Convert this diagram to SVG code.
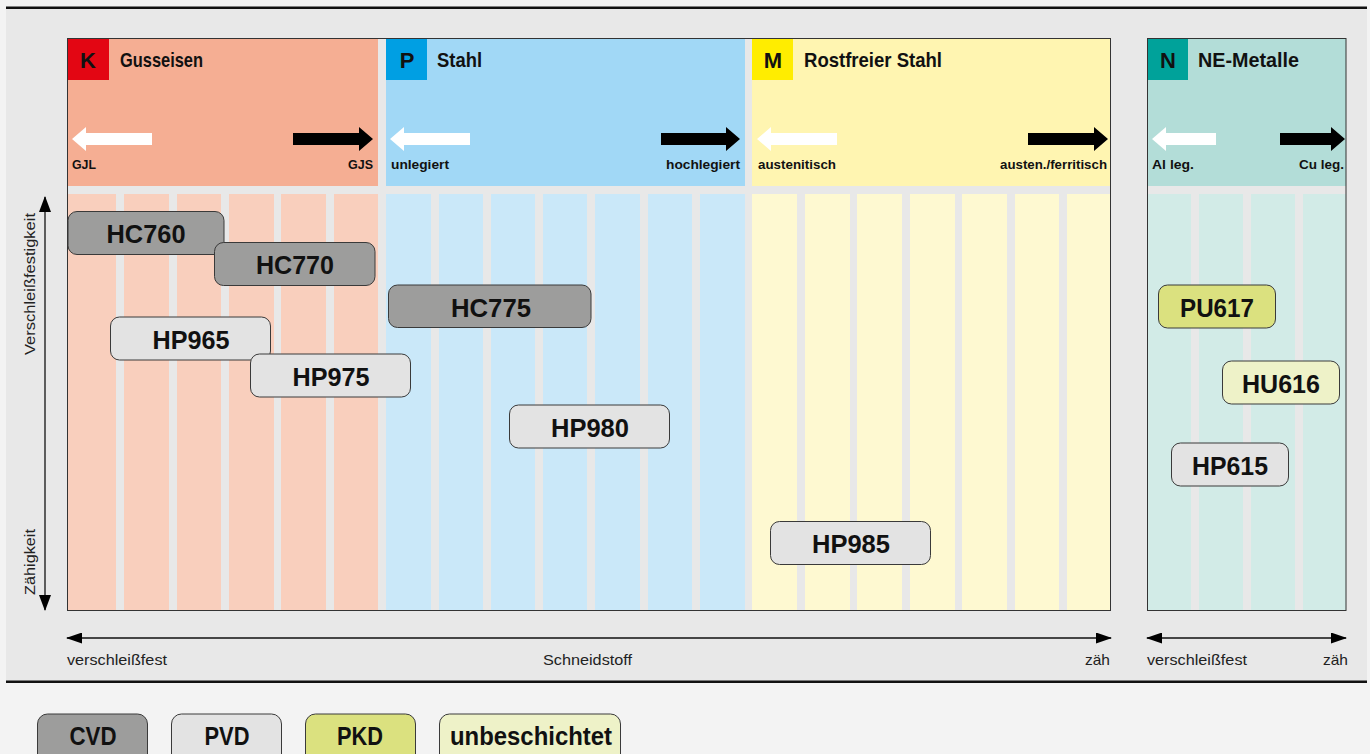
<svg xmlns="http://www.w3.org/2000/svg" width="1370" height="754" viewBox="0 0 1370 754">
<style>
.bg{fill:#f3f3f3}
.panel{fill:#e8e8e8}
.rule{fill:#111}
.gap{fill:#e8e8e8}
.frame{fill:none;stroke:#333;stroke-width:1}
.lt{font-family:"Liberation Sans",Arial,sans-serif;font-weight:bold;font-size:22px;fill:#111;text-anchor:middle}
.ht{font-family:"Liberation Sans",Arial,sans-serif;font-weight:bold;font-size:20.5px;fill:#111}
.st{font-family:"Liberation Sans",Arial,sans-serif;font-weight:bold;font-size:13px;fill:#111}
.ax{font-family:"Liberation Sans",Arial,sans-serif;font-size:15px;fill:#222}
.node rect{stroke:#3a3a3a;stroke-width:1}
.nt{font-family:"Liberation Sans",Arial,sans-serif;font-weight:bold;font-size:26px;fill:#111;text-anchor:middle}
.lg{font-family:"Liberation Sans",Arial,sans-serif;font-weight:bold;font-size:25px;fill:#111;text-anchor:middle}
.cvd{fill:#9d9d9c}
.pvd{fill:#e3e3e3}
.pkd{fill:#dbe17f}
.unb{fill:#eef2c8}
.wa{fill:#fff}
.ba{fill:#000}
.axl{stroke:#111;stroke-width:1.3;fill:none}
</style>
<defs>
<marker id="ah" viewBox="0 0 16 12" refX="15" refY="6" markerWidth="16" markerHeight="12" markerUnits="userSpaceOnUse" orient="auto-start-reverse">
<path d="M0,0 L16,6 L0,12 Z" fill="#000"/>
</marker>
<marker id="ahs" viewBox="0 0 16 11" refX="15" refY="5.5" markerWidth="16" markerHeight="11" markerUnits="userSpaceOnUse" orient="auto-start-reverse">
<path d="M0,0 L16,5.5 L0,11 Z" fill="#000"/>
</marker>
</defs>
<rect class="bg" x="0" y="0" width="1370" height="754"/>
<rect class="panel" x="6" y="8" width="1361" height="674"/>
<rect class="rule" x="6" y="6.5" width="1361" height="2.5"/>
<rect class="rule" x="6" y="680.5" width="1361" height="2.5"/>

<!-- Section K -->
<g id="section-K">
<rect x="67" y="38" width="311" height="148" fill="#f5ae93"/>
<rect x="67" y="194" width="311" height="417" fill="#f9cfbd"/>
<rect class="gap" x="67" y="186" width="311" height="8"/>
<rect class="gap" x="116" y="194" width="8" height="417"/>
<rect class="gap" x="169" y="194" width="8" height="417"/>
<rect class="gap" x="221" y="194" width="8" height="417"/>
<rect class="gap" x="274" y="194" width="7" height="417"/>
<rect class="gap" x="326" y="194" width="8" height="417"/>
<rect x="67" y="38" width="42" height="42" fill="#e30613"/>
<text class="lt" x="88" y="68">K</text>
<text class="ht" x="120" y="67" textLength="83" lengthAdjust="spacingAndGlyphs">Gusseisen</text>
<path class="wa" d="M72,139 L86,127 L86,133 L152,133 L152,145 L86,145 L86,151 Z"/>
<path class="ba" d="M373,139 L359,127 L359,133 L293,133 L293,145 L359,145 L359,151 Z"/>
<text class="st" x="72" y="169" textLength="24" lengthAdjust="spacingAndGlyphs">GJL</text>
<text class="st" x="348" y="169" textLength="25" lengthAdjust="spacingAndGlyphs">GJS</text>
</g>

<!-- Section P -->
<g id="section-P">
<rect x="386" y="38" width="359" height="148" fill="#a1d8f6"/>
<rect x="386" y="194" width="359" height="417" fill="#cae8f9"/>
<rect class="gap" x="386" y="186" width="359" height="8"/>
<rect class="gap" x="431" y="194" width="8" height="417"/>
<rect class="gap" x="483" y="194" width="8" height="417"/>
<rect class="gap" x="535" y="194" width="8" height="417"/>
<rect class="gap" x="587" y="194" width="8" height="417"/>
<rect class="gap" x="640" y="194" width="8" height="417"/>
<rect class="gap" x="692" y="194" width="8" height="417"/>
<rect x="386" y="38" width="41" height="42" fill="#009fe3"/>
<text class="lt" x="407" y="68">P</text>
<text class="ht" x="437" y="67" textLength="45" lengthAdjust="spacingAndGlyphs">Stahl</text>
<path class="wa" d="M390,139 L404,127 L404,133 L470,133 L470,145 L404,145 L404,151 Z"/>
<path class="ba" d="M740,139 L726,127 L726,133 L661,133 L661,145 L726,145 L726,151 Z"/>
<text class="st" x="391" y="169" textLength="58" lengthAdjust="spacingAndGlyphs">unlegiert</text>
<text class="st" x="666" y="169" textLength="74" lengthAdjust="spacingAndGlyphs">hochlegiert</text>
</g>

<!-- Section M -->
<g id="section-M">
<rect x="752" y="38" width="359" height="148" fill="#fff5b1"/>
<rect x="752" y="194" width="359" height="417" fill="#fef9d1"/>
<rect class="gap" x="752" y="186" width="359" height="8"/>
<rect class="gap" x="797" y="194" width="8" height="417"/>
<rect class="gap" x="850" y="194" width="7" height="417"/>
<rect class="gap" x="902" y="194" width="8" height="417"/>
<rect class="gap" x="955" y="194" width="7" height="417"/>
<rect class="gap" x="1007" y="194" width="8" height="417"/>
<rect class="gap" x="1059" y="194" width="8" height="417"/>
<rect x="752" y="38" width="41" height="42" fill="#ffed00"/>
<text class="lt" x="773" y="68">M</text>
<text class="ht" x="804" y="67" textLength="138" lengthAdjust="spacingAndGlyphs">Rostfreier Stahl</text>
<path class="wa" d="M757,139 L771,127 L771,133 L837,133 L837,145 L771,145 L771,151 Z"/>
<path class="ba" d="M1108,139 L1094,127 L1094,133 L1028,133 L1028,145 L1094,145 L1094,151 Z"/>
<text class="st" x="758" y="169" textLength="78" lengthAdjust="spacingAndGlyphs">austenitisch</text>
<text class="st" x="1000" y="169" textLength="107" lengthAdjust="spacingAndGlyphs">austen./ferritisch</text>
</g>

<!-- Section N -->
<g id="section-N">
<rect x="1147" y="38" width="199" height="148" fill="#b3ddd8"/>
<rect x="1147" y="194" width="199" height="417" fill="#d2ebe7"/>
<rect class="gap" x="1147" y="186" width="199" height="8"/>
<rect class="gap" x="1191" y="194" width="8" height="417"/>
<rect class="gap" x="1243" y="194" width="8" height="417"/>
<rect class="gap" x="1295" y="194" width="8" height="417"/>
<rect x="1147" y="38" width="41" height="42" fill="#00a29a"/>
<text class="lt" x="1168" y="68">N</text>
<text class="ht" x="1198" y="67" textLength="101" lengthAdjust="spacingAndGlyphs">NE-Metalle</text>
<path class="wa" d="M1152,139 L1166,127 L1166,133 L1216,133 L1216,145 L1166,145 L1166,151 Z"/>
<path class="ba" d="M1345,139 L1331,127 L1331,133 L1280,133 L1280,145 L1331,145 L1331,151 Z"/>
<text class="st" x="1152" y="169" textLength="42" lengthAdjust="spacingAndGlyphs">Al leg.</text>
<text class="st" x="1299" y="169" textLength="45" lengthAdjust="spacingAndGlyphs">Cu leg.</text>
</g>

<rect class="gap" x="378" y="38" width="8" height="573"/>
<rect class="gap" x="745" y="38" width="7" height="573"/>
<rect class="frame" x="67.5" y="38.5" width="1043" height="572"/>
<rect class="frame" x="1147.5" y="38.5" width="198.5" height="572"/>

<!-- Axes -->
<g id="connectors">
<line class="axl" x1="45" y1="610" x2="45" y2="197" marker-start="url(#ah)" marker-end="url(#ah)"/>
<line class="axl" x1="67" y1="638" x2="1111" y2="638" marker-start="url(#ahs)" marker-end="url(#ahs)"/>
<line class="axl" x1="1147" y1="638" x2="1346" y2="638" marker-start="url(#ahs)" marker-end="url(#ahs)"/>
</g>
<g id="axis-labels">
<text class="ax" transform="translate(35,355) rotate(-90)" textLength="142" lengthAdjust="spacingAndGlyphs">Verschleißfestigkeit</text>
<text class="ax" transform="translate(35,595) rotate(-90)" textLength="66" lengthAdjust="spacingAndGlyphs">Zähigkeit</text>
<text class="ax" x="67" y="665" textLength="100" lengthAdjust="spacingAndGlyphs">verschleißfest</text>
<text class="ax" x="543" y="665" textLength="89" lengthAdjust="spacingAndGlyphs">Schneidstoff</text>
<text class="ax" x="1085" y="665" textLength="25" lengthAdjust="spacingAndGlyphs">zäh</text>
<text class="ax" x="1147" y="665" textLength="100" lengthAdjust="spacingAndGlyphs">verschleißfest</text>
<text class="ax" x="1323" y="665" textLength="25" lengthAdjust="spacingAndGlyphs">zäh</text>
</g>

<!-- Nodes -->
<g id="HC760" class="node"><rect class="cvd" x="68" y="211.5" width="156" height="43" rx="9"/><text class="nt" x="146" y="243" textLength="79" lengthAdjust="spacingAndGlyphs">HC760</text></g>
<g id="HC770" class="node"><rect class="cvd" x="214.5" y="242.5" width="160.5" height="43" rx="9"/><text class="nt" x="295" y="274" textLength="78" lengthAdjust="spacingAndGlyphs">HC770</text></g>
<g id="HP965" class="node"><rect class="pvd" x="110.5" y="317" width="160" height="43" rx="9"/><text class="nt" x="191" y="348.5" textLength="77" lengthAdjust="spacingAndGlyphs">HP965</text></g>
<g id="HP975" class="node"><rect class="pvd" x="250.5" y="354" width="160" height="43" rx="9"/><text class="nt" x="331" y="386" textLength="77" lengthAdjust="spacingAndGlyphs">HP975</text></g>
<g id="HC775" class="node"><rect class="cvd" x="388.5" y="285" width="202.5" height="42.5" rx="9"/><text class="nt" x="491" y="316.5" textLength="80" lengthAdjust="spacingAndGlyphs">HC775</text></g>
<g id="HP980" class="node"><rect class="pvd" x="509.5" y="405" width="160" height="43" rx="9"/><text class="nt" x="590" y="436.5" textLength="78" lengthAdjust="spacingAndGlyphs">HP980</text></g>
<g id="HP985" class="node"><rect class="pvd" x="770.5" y="521.5" width="160" height="43" rx="9"/><text class="nt" x="851" y="553" textLength="78" lengthAdjust="spacingAndGlyphs">HP985</text></g>
<g id="PU617" class="node"><rect class="pkd" x="1158.5" y="285" width="117" height="43" rx="9"/><text class="nt" x="1217" y="316.5" textLength="74" lengthAdjust="spacingAndGlyphs">PU617</text></g>
<g id="HU616" class="node"><rect class="unb" x="1222.5" y="361" width="117" height="43" rx="9"/><text class="nt" x="1281" y="392.5" textLength="78" lengthAdjust="spacingAndGlyphs">HU616</text></g>
<g id="HP615" class="node"><rect class="pvd" x="1171.5" y="443" width="117" height="43" rx="9"/><text class="nt" x="1230" y="474.5" textLength="76" lengthAdjust="spacingAndGlyphs">HP615</text></g>

<!-- Legend -->
<g id="legend-CVD" class="node"><rect class="cvd" x="37.5" y="714" width="110" height="50" rx="10"/><text class="lg" x="93" y="745" textLength="47" lengthAdjust="spacingAndGlyphs">CVD</text></g>
<g id="legend-PVD" class="node"><rect class="pvd" x="171.5" y="714" width="110" height="50" rx="10"/><text class="lg" x="227" y="745" textLength="45" lengthAdjust="spacingAndGlyphs">PVD</text></g>
<g id="legend-PKD" class="node"><rect class="pkd" x="305.5" y="714" width="110" height="50" rx="10"/><text class="lg" x="360" y="745" textLength="46" lengthAdjust="spacingAndGlyphs">PKD</text></g>
<g id="legend-unbeschichtet" class="node"><rect class="unb" x="439.5" y="714" width="181" height="50" rx="10"/><text class="lg" x="531" y="745" textLength="162" lengthAdjust="spacingAndGlyphs">unbeschichtet</text></g>
</svg>
